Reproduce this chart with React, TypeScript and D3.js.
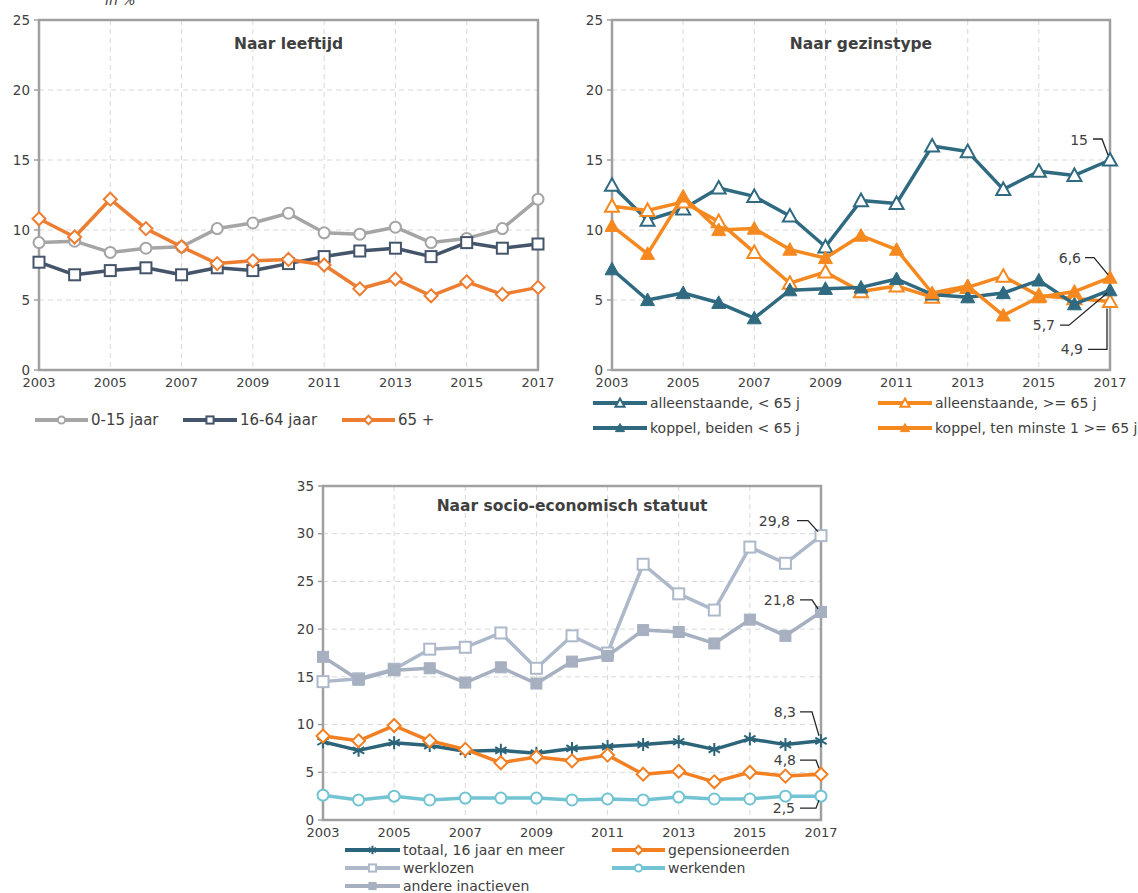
import React from 'react';
import * as d3 from 'd3';

// ---------- data ----------
const years = [2003, 2004, 2005, 2006, 2007, 2008, 2009, 2010, 2011, 2012, 2013, 2014, 2015, 2016, 2017];
const xTickYears = [2003, 2005, 2007, 2009, 2011, 2013, 2015, 2017];
const yTicks25 = [0, 5, 10, 15, 20, 25];
const yTicks35 = [0, 5, 10, 15, 20, 25, 30, 35];

// Naar leeftijd
const age0to15 = [9.1, 9.2, 8.4, 8.7, 8.8, 10.1, 10.5, 11.2, 9.8, 9.7, 10.2, 9.1, 9.4, 10.1, 12.2];
const age16to64 = [7.7, 6.8, 7.1, 7.3, 6.8, 7.3, 7.1, 7.6, 8.1, 8.5, 8.7, 8.1, 9.1, 8.7, 9.0];
const age65plus = [10.8, 9.5, 12.2, 10.1, 8.8, 7.6, 7.8, 7.9, 7.5, 5.8, 6.5, 5.3, 6.3, 5.4, 5.9];

// Naar gezinstype
const singleUnder65 = [13.2, 10.7, 11.5, 13.0, 12.4, 11.0, 8.8, 12.1, 11.9, 16.0, 15.6, 12.9, 14.2, 13.9, 15.0];
const single65plus = [11.7, 11.4, 12.0, 10.6, 8.4, 6.2, 7.0, 5.6, 6.0, 5.2, 5.9, 6.7, 5.3, 5.1, 4.9];
const coupleUnder65 = [7.2, 5.0, 5.5, 4.8, 3.7, 5.7, 5.8, 5.9, 6.5, 5.4, 5.2, 5.5, 6.4, 4.7, 5.7];
const couple65plus = [10.3, 8.3, 12.4, 10.0, 10.1, 8.6, 8.0, 9.6, 8.6, 5.5, 6.0, 3.9, 5.2, 5.6, 6.6];

// Naar socio-economisch statuut
const totaal16plus = [8.2, 7.3, 8.1, 7.8, 7.2, 7.3, 7.0, 7.5, 7.7, 7.9, 8.2, 7.4, 8.5, 7.9, 8.3];
const gepensioneerden = [8.8, 8.3, 9.9, 8.3, 7.4, 6.0, 6.6, 6.2, 6.8, 4.8, 5.1, 4.0, 5.0, 4.6, 4.8];
const werklozen = [14.5, 14.8, 15.8, 17.9, 18.1, 19.6, 15.9, 19.3, 17.5, 26.8, 23.7, 22.0, 28.6, 26.9, 29.8];
const werkenden = [2.6, 2.1, 2.5, 2.1, 2.3, 2.3, 2.3, 2.1, 2.2, 2.1, 2.4, 2.2, 2.2, 2.5, 2.5];
const andereInactieven = [17.1, 14.7, 15.7, 15.9, 14.4, 16.0, 14.3, 16.6, 17.2, 19.9, 19.7, 18.5, 21.0, 19.3, 21.8];

// ---------- styling ----------
const FONT = '"DejaVu Sans", Verdana, sans-serif';
const TXT = '#404040';

type MarkerType = 'circleOpen' | 'squareOpen' | 'squareFilled' | 'diamondOpen' | 'triOpen' | 'triFilled' | 'star';

interface Series {
  name: string;
  values: number[];
  color: string;
  marker: MarkerType;
}

interface Annotation {
  seriesIdx: number;
  label: string;
  text: [number, number];
  path: [number, number][];
}

interface LegendItem {
  seriesIdx: number;
  x: number; // line start
  y: number;
  len: number;
}

function Marker({ type, x, y, color, s = 1 }: { type: MarkerType; x: number; y: number; color: string; s?: number }) {
  switch (type) {
    case 'circleOpen':
      return <circle cx={x} cy={y} r={5.5 * s} fill="#fff" stroke={color} strokeWidth={2} />;
    case 'squareOpen': {
      const h = 5.5 * s;
      return <rect x={x - h} y={y - h} width={2 * h} height={2 * h} fill="#fff" stroke={color} strokeWidth={2} />;
    }
    case 'squareFilled': {
      const h = 5.5 * s;
      return <rect x={x - h} y={y - h} width={2 * h} height={2 * h} fill={color} stroke={color} strokeWidth={1} />;
    }
    case 'diamondOpen': {
      const h = 6.5 * s;
      return <path d={`M${x},${y - h}L${x + h},${y}L${x},${y + h}L${x - h},${y}Z`} fill="#fff" stroke={color} strokeWidth={2} />;
    }
    case 'triOpen': {
      const h = 7 * s;
      return <path d={`M${x},${y - h}L${x + h},${y + h * 0.8}L${x - h},${y + h * 0.8}Z`} fill="#fff" stroke={color} strokeWidth={2} />;
    }
    case 'triFilled': {
      const h = 7 * s;
      return <path d={`M${x},${y - h}L${x + h},${y + h * 0.8}L${x - h},${y + h * 0.8}Z`} fill={color} stroke={color} strokeWidth={1} />;
    }
    case 'star': {
      const h = 6.5 * s;
      const a = h * 0.87;
      return (
        <path
          d={`M${x},${y - h}L${x},${y + h}M${x - a},${y - h / 2}L${x + a},${y + h / 2}M${x - a},${y + h / 2}L${x + a},${y - h / 2}`}
          stroke={color}
          strokeWidth={2}
          fill="none"
        />
      );
    }
  }
  return null;
}

interface ChartProps {
  title: string;
  left: number;
  right: number;
  top: number;
  bottom: number;
  yMax: number;
  yTicks: number[];
  series: Series[];
  annotations?: Annotation[];
  legend: LegendItem[];
  legendFont: number;
  titleY: number;
}

function LineChart({ title, left, right, top, bottom, yMax, yTicks, series, annotations = [], legend, legendFont, titleY }: ChartProps) {
  const x = d3.scaleLinear().domain([years[0], years[years.length - 1]]).range([left, right]);
  const y = d3.scaleLinear().domain([0, yMax]).range([bottom, top]);
  const line = d3
    .line<number>()
    .x((_, i) => x(years[i]))
    .y((d) => y(d));

  return (
    <g>
      {/* gridlines */}
      {yTicks
        .filter((t) => t > 0 && t < yMax)
        .map((t) => (
          <line key={'h' + t} x1={left} x2={right} y1={y(t)} y2={y(t)} stroke="#D9D9D9" strokeWidth={1} strokeDasharray="5,4" />
        ))}
      {xTickYears
        .filter((t) => t > years[0] && t < years[years.length - 1])
        .map((t) => (
          <line key={'v' + t} x1={x(t)} x2={x(t)} y1={top} y2={bottom} stroke="#D9D9D9" strokeWidth={1} strokeDasharray="5,4" />
        ))}
      {/* frame */}
      <rect x={left} y={top} width={right - left} height={bottom - top} fill="none" stroke="#A0A0A0" strokeWidth={2.5} />
      {/* y ticks */}
      {yTicks.map((t) => (
        <g key={'yt' + t}>
          <line x1={left - 5} x2={left} y1={y(t)} y2={y(t)} stroke="#A0A0A0" strokeWidth={1.5} />
          <text x={left - 9} y={y(t)} dy="0.35em" textAnchor="end" fontSize={13.5} fontFamily={FONT} fill={TXT}>
            {t}
          </text>
        </g>
      ))}
      {/* x ticks */}
      {xTickYears.map((t) => (
        <text key={'xt' + t} x={x(t)} y={bottom + 17} textAnchor="middle" fontSize={13} fontFamily={FONT} fill={TXT}>
          {t}
        </text>
      ))}
      {/* title */}
      <text x={(left + right) / 2} y={titleY} textAnchor="middle" fontSize={15.5} fontWeight="bold" fontFamily={FONT} fill={TXT}>
        {title}
      </text>
      {/* series */}
      {series.map((s) => (
        <g key={s.name}>
          <path d={line(s.values) || ''} fill="none" stroke={s.color} strokeWidth={3.5} strokeLinejoin="round" />
          {s.values.map((v, i) => (
            <Marker key={i} type={s.marker} x={x(years[i])} y={y(v)} color={s.color} />
          ))}
        </g>
      ))}
      {/* annotations */}
      {annotations.map((a) => {
        const s = series[a.seriesIdx];
        const px = x(years[years.length - 1]);
        const py = y(s.values[s.values.length - 1]);
        const pts = a.path.map(([dx, dy]) => `${px + dx},${py + dy}`).join(' ');
        return (
          <g key={a.label}>
            <text x={px + a.text[0]} y={py + a.text[1]} dy="0.35em" textAnchor="end" fontSize={14} fontFamily={FONT} fill={TXT}>
              {a.label}
            </text>
            <polyline points={pts} fill="none" stroke="#262626" strokeWidth={1.3} />
          </g>
        );
      })}
      {/* legend */}
      {legend.map((l) => {
        const s = series[l.seriesIdx];
        return (
          <g key={'lg' + s.name}>
            <line x1={l.x} x2={l.x + l.len} y1={l.y} y2={l.y} stroke={s.color} strokeWidth={4} />
            <Marker type={s.marker} x={l.x + l.len / 2} y={l.y} color={s.color} s={0.65} />
            <text x={l.x + l.len + 3} y={l.y} dy="0.35em" fontSize={legendFont} fontFamily={FONT} fill={TXT}>
              {s.name}
            </text>
          </g>
        );
      })}
    </g>
  );
}

const ageSeries: Series[] = [
  { name: '0-15 jaar', values: age0to15, color: '#A5A5A5', marker: 'circleOpen' },
  { name: '16-64 jaar', values: age16to64, color: '#44546A', marker: 'squareOpen' },
  { name: '65 +', values: age65plus, color: '#ED7D31', marker: 'diamondOpen' },
];

const familySeries: Series[] = [
  { name: 'alleenstaande, < 65 j', values: singleUnder65, color: '#2F6A80', marker: 'triOpen' },
  { name: 'alleenstaande, >= 65 j', values: single65plus, color: '#F5881F', marker: 'triOpen' },
  { name: 'koppel, beiden < 65 j', values: coupleUnder65, color: '#2F6A80', marker: 'triFilled' },
  { name: 'koppel, ten minste 1 >= 65 j', values: couple65plus, color: '#F5881F', marker: 'triFilled' },
];

const statusSeries: Series[] = [
  { name: 'totaal, 16 jaar en meer', values: totaal16plus, color: '#2C6479', marker: 'star' },
  { name: 'gepensioneerden', values: gepensioneerden, color: '#F27F22', marker: 'diamondOpen' },
  { name: 'werklozen', values: werklozen, color: '#ADB9CA', marker: 'squareOpen' },
  { name: 'werkenden', values: werkenden, color: '#72C4D3', marker: 'circleOpen' },
  { name: 'andere inactieven', values: andereInactieven, color: '#A6B0C0', marker: 'squareFilled' },
];

const familyAnnotations: Annotation[] = [
  { seriesIdx: 0, label: '15', text: [-22, -20], path: [[-17, -21], [-8, -21], [-2, -5]] },
  { seriesIdx: 3, label: '6,6', text: [-29, -20], path: [[-25, -20], [-16, -20], [-2, -3]] },
  { seriesIdx: 2, label: '5,7', text: [-55, 35], path: [[-50, 35], [-41, 35], [-3, 3]] },
  { seriesIdx: 1, label: '4,9', text: [-27, 48], path: [[-22, 48], [-3, 48], [-3, 7]] },
];

const statusAnnotations: Annotation[] = [
  { seriesIdx: 2, label: '29,8', text: [-31, -15], path: [[-24, -15], [-13, -15], [-3, -4]] },
  { seriesIdx: 4, label: '21,8', text: [-26, -12], path: [[-21, -12], [-9, -12], [-3, -3]] },
  { seriesIdx: 0, label: '8,3', text: [-25, -29], path: [[-21, -29], [-9, -29], [-2, -5]] },
  { seriesIdx: 1, label: '4,8', text: [-25, -14], path: [[-21, -14], [-5, -14], [-2, -6]] },
  { seriesIdx: 3, label: '2,5', text: [-26, 12], path: [[-21, 12], [-5, 12], [-2, 4]] },
];

export default function App() {
  return (
    <svg
      width={1138}
      height={893}
      style={{ position: 'absolute', left: 0, top: 0, background: '#fff' }}
      xmlns="http://www.w3.org/2000/svg"
    >
      <rect x={0} y={0} width={1138} height={893} fill="#fff" />
      <text x={105} y={5} fontSize={14} fontStyle="italic" fontFamily={FONT} fill={TXT}>
        in %
      </text>
      <LineChart
        title="Naar leeftijd"
        left={39}
        right={538}
        top={20}
        bottom={370}
        yMax={25}
        yTicks={yTicks25}
        series={ageSeries}
        titleY={49}
        legendFont={15}
        legend={[
          { seriesIdx: 0, x: 35, y: 420, len: 53 },
          { seriesIdx: 1, x: 183, y: 420, len: 54 },
          { seriesIdx: 2, x: 342, y: 420, len: 53 },
        ]}
      />
      <LineChart
        title="Naar gezinstype"
        left={612}
        right={1110}
        top={20}
        bottom={370}
        yMax={25}
        yTicks={yTicks25}
        series={familySeries}
        titleY={49}
        legendFont={14}
        annotations={familyAnnotations}
        legend={[
          { seriesIdx: 0, x: 593, y: 403, len: 54 },
          { seriesIdx: 1, x: 878, y: 403, len: 54 },
          { seriesIdx: 2, x: 593, y: 428, len: 54 },
          { seriesIdx: 3, x: 878, y: 428, len: 54 },
        ]}
      />
      <LineChart
        title="Naar socio-economisch statuut"
        left={323}
        right={821}
        top={486}
        bottom={820}
        yMax={35}
        yTicks={yTicks35}
        series={statusSeries}
        titleY={511}
        legendFont={14}
        annotations={statusAnnotations}
        legend={[
          { seriesIdx: 0, x: 345, y: 850, len: 55 },
          { seriesIdx: 1, x: 612, y: 850, len: 53 },
          { seriesIdx: 2, x: 345, y: 868, len: 55 },
          { seriesIdx: 3, x: 612, y: 868, len: 53 },
          { seriesIdx: 4, x: 345, y: 886, len: 55 },
        ]}
      />
    </svg>
  );
}
